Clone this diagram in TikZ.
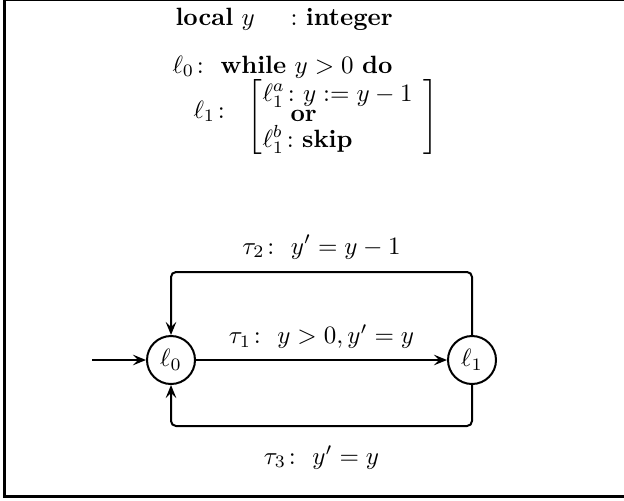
\documentclass[tikz,border=0pt]{standalone}
\usepackage{amsmath,amssymb}
\usepackage{tikz}
\usetikzlibrary{arrows.meta, positioning}
\tikzstyle{loc} = [circle, thick, draw=black, minimum size=19.2pt, inner sep=0pt]
\tikzstyle{prog} = [inner sep=0pt, anchor=base west]
\tikzstyle{brack} = [inner sep=0pt]
\tikzstyle{arrow2} = [thick,-{Stealth[length=5.2pt, width=4.2pt, inset=2pt]}]
\newcommand{\brackstrut}{\vcenter{\hbox{\vrule height 32pt width 0pt}}}

\begin{document}
\begin{tikzpicture}[x=0.4pt, y=-0.4pt]
            \useasboundingbox (0,0) rectangle (624,500);
            \draw [line width=1.2pt] (4.5,-0.5) rectangle (640,496);

            % Program text
            \node (decl) [prog] at (175,25) {\textbf{local} $y$};
            \node (decltype) [prog] at (290,25) {$:$ \textbf{integer}};
            \node (while) [prog] at (172,73) {$\ell_0\colon$\ \textbf{while} $y>0$ \textbf{do}};
            \node (body) [prog] at (193,118) {$\ell_1\colon$};
            \node (lbr) [brack, anchor=west] at (247,116.5) {$\left[\brackstrut\right.$};
            \node (rbr) [brack, anchor=east] at (439,116.5) {$\left.\brackstrut\right]$};
            \node (assign) [prog] at (262,101) {$\ell_1^a\colon y:=y-1$};
            \node (choice) [prog] at (290,121) {\textbf{or}};
            \node (skip) [prog] at (262,147) {$\ell_1^b\colon \textbf{skip}$};

            % Place nodes
            \node (l0) [loc] at (171,360) {$\ell_0$};
            \node (l1) [loc] at (472,360) {$\ell_1$};
            \coordinate (start) at (92,360);

            % Draw edges
            \draw [arrow2] (start) -- (l0);
            \draw [arrow2] (l0) -- node[above=1pt] {$\tau_1\colon\ y>0, y'=y$} (l1);
            \draw [arrow2, rounded corners=2pt] (l1.north) -- ++(0,-63) -| node[above=1.5pt, pos=0.25] {$\tau_2\colon\ y'=y-1$} (l0.north);
            \draw [arrow2, rounded corners=2pt] (l1.south) -- ++(0,41) -| node[below=4pt, pos=0.25] {$\tau_3\colon\ y'=y$} (l0.south);
        \end{tikzpicture}
\end{document}
